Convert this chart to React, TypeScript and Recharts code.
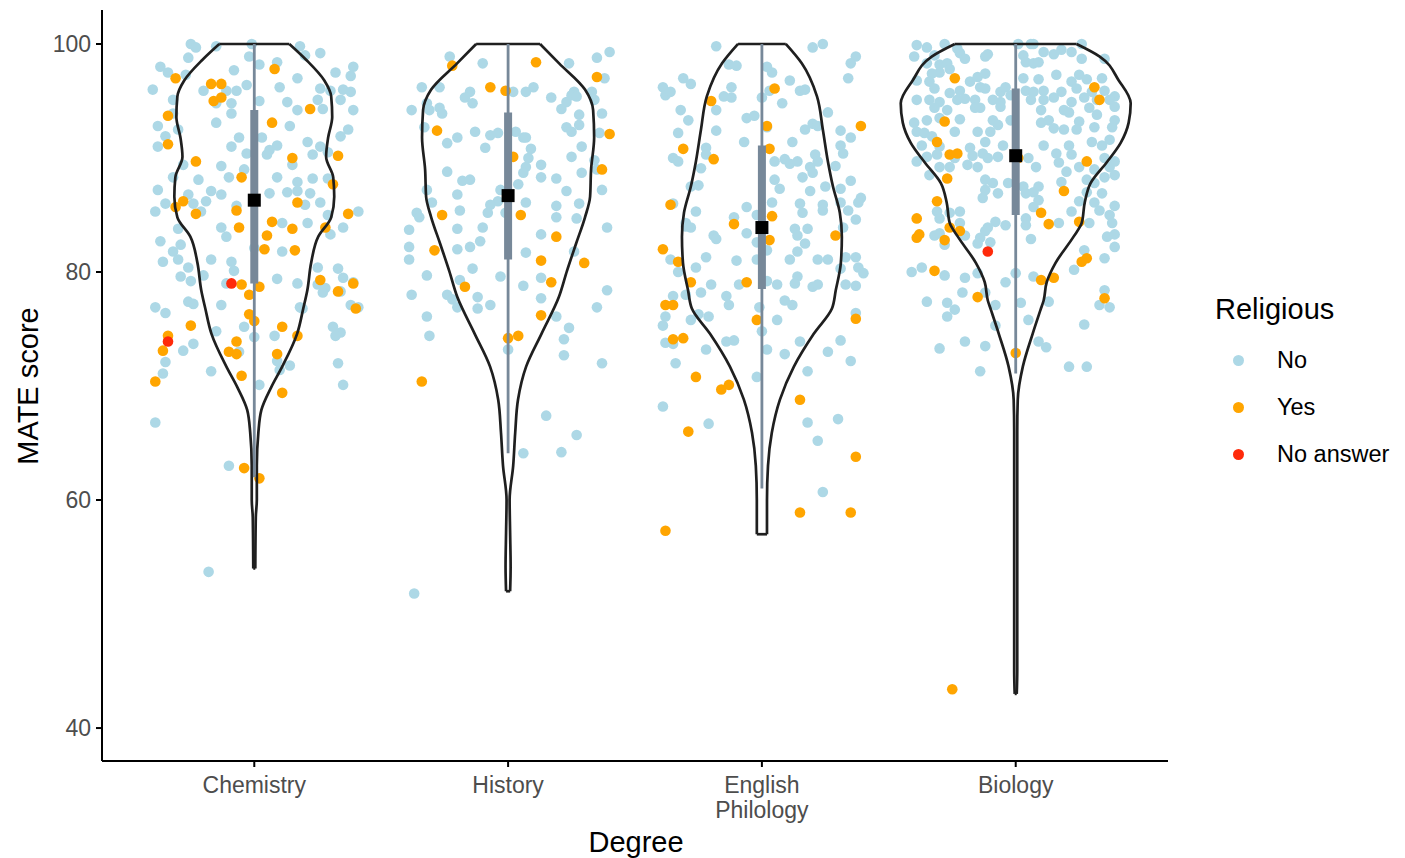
import React from "react";
import { ComposedChart, Scatter, XAxis, YAxis } from "recharts";

const FONT = '"Liberation Sans", Arial, Helvetica, sans-serif';
const BOX = "#778899";

const categories = ["Chemistry", "History", "English Philology", "Biology"];

// jittered points: [offset from the category centre, MATE score]
const chemNo = [
  [-0.25, 100], [-0.23, 99.7], [-0.15, 99.8], [-0.01, 100], [0.18, 99.8], [0.2, 99.0], [0.26, 99.2], [-0.02, 98.9], [-0.26, 98.8], [0.09, 98.4],
  [-0.37, 98.0], [-0.34, 97.5], [-0.27, 97.3], [-0.08, 97.7], [0.02, 98.2], [0.39, 98.0], [0.32, 97.5], [0.38, 97.2], [0.17, 97.0],
  [-0.4, 96.0], [-0.2, 95.9], [-0.11, 95.9], [-0.07, 95.9], [-0.03, 96.4], [0.1, 96.2], [0.26, 96.1], [0.3, 95.9], [0.35, 96.0], [0.38, 95.8],
  [-0.32, 95.1], [-0.15, 94.8], [-0.09, 94.8], [0.02, 95.0], [0.13, 94.9], [0.25, 95.1], [0.34, 95.1], [0.39, 94.2], [0.17, 94.2], [0.27, 94.3],
  [-0.32, 93.9], [-0.09, 93.9], [-0.38, 92.8], [-0.15, 93.1], [0.14, 92.8], [-0.3, 92.5], [0.37, 92.5], [0.34, 91.9], [-0.35, 91.9], [-0.38, 91.0],
  [-0.06, 91.8], [0.03, 91.8], [0.21, 91.4], [-0.09, 91.0], [0.06, 90.7], [0.09, 91.1], [0.26, 91.0], [-0.03, 90.4], [0.05, 90.3], [0.23, 90.3], [0.29, 90.5],
  [-0.28, 89.4], [-0.13, 89.3], [-0.04, 89.0], [0.15, 89.4], [-0.32, 88.3], [-0.22, 88.1], [-0.1, 88.3], [0.09, 88.3], [0.17, 87.9], [0.23, 88.2], [0.29, 88.2],
  [-0.38, 87.2], [-0.17, 87.1], [0.17, 87.1], [0.13, 87.0], [-0.26, 86.8], [-0.13, 86.8], [0.06, 86.9], [0.22, 86.9],
  [-0.35, 86.0], [-0.24, 86.0], [-0.19, 86.2], [-0.07, 85.8], [0.2, 85.9], [0.26, 86.1], [-0.39, 85.3], [-0.21, 85.3], [0.29, 85.0], [0.41, 85.3],
  [-0.3, 83.8], [-0.13, 83.9], [-0.11, 83.1], [0.11, 84.3], [0.21, 84.3], [0.35, 83.9], [0.3, 83.3],
  [-0.37, 82.7], [-0.29, 82.4], [-0.32, 81.8], [0, 82.1], [0.11, 81.8], [-0.36, 80.9], [-0.3, 81.1], [-0.17, 81.1], [-0.09, 80.9], [-0.26, 80.4], [-0.08, 80.1], [0.25, 80.4], [0.33, 80.3],
  [-0.29, 79.6], [-0.25, 79.2], [-0.2, 79.7], [-0.11, 79.0], [0.09, 79.4], [0.17, 79.0], [0.25, 78.9], [0.28, 78.6], [0.35, 79.5], [0.39, 79.1], [0.27, 78.2], [0.34, 78.3],
  [-0.26, 77.4], [-0.24, 77.2], [-0.39, 76.9], [-0.13, 77.1], [0.18, 76.9], [0.38, 77.1], [0.41, 76.9],
  [-0.35, 76.4], [0.19, 76.8], [-0.15, 74.8], [-0.04, 75.2], [0, 74.3], [0.08, 74.4], [0.31, 75.2], [0.34, 74.7], [0.32, 74.4],
  [-0.24, 73.7], [-0.28, 73.1], [-0.06, 73.0], [-0.35, 72.1], [0.09, 72.2], [0.1, 71.4], [0.14, 71.8], [0.33, 72.0], [-0.36, 71.1], [-0.17, 71.3], [0.02, 70.1], [0.35, 70.1],
  [-0.39, 66.8], [-0.1, 63.0], [-0.18, 53.7],
];
const chemYes = [
  [0.08, 97.8], [-0.31, 97.0], [-0.17, 96.5], [-0.13, 96.5], [-0.16, 95.0], [-0.13, 95.3], [-0.34, 93.7], [0.22, 94.3], [0.07, 93.1], [-0.34, 91.2],
  [-0.23, 89.7], [0.15, 90.0], [0.33, 90.2], [-0.05, 88.3], [0.31, 87.7], [-0.28, 86.2], [-0.31, 85.7], [-0.23, 85.1], [-0.07, 85.4], [0.17, 86.1], [0.37, 85.1],
  [0.07, 84.4], [-0.06, 83.9], [0.15, 83.8], [0.28, 83.9], [0.05, 83.2], [0.04, 82.0], [0.16, 81.9], [-0.05, 78.9], [0.02, 78.7], [-0.02, 78.0], [0.26, 79.3], [0.33, 78.3], [0.39, 79.0],
  [-0.02, 76.3], [0, 75.7], [-0.25, 75.3], [-0.34, 74.4], [0.11, 75.2], [0.17, 74.4], [-0.07, 73.9], [-0.1, 73.0], [-0.07, 72.8], [-0.36, 73.1], [0.09, 72.8], [-0.39, 70.4], [-0.05, 70.9], [0.11, 69.4],
  [-0.04, 62.8], [0.02, 61.9], [0.4, 76.8],
];
const chemNA = [[-0.09, 79.0], [-0.34, 73.9]];

const histNo = [
  [-0.23, 98.9], [-0.1, 98.3], [0.24, 98.3], [0.35, 98.8], [0.4, 99.3], [0.38, 97.0], [-0.34, 96.2], [-0.27, 96.2], [-0.15, 95.8], [-0.17, 95.3], [-0.14, 94.8],
  [0.02, 95.8], [0.07, 95.8], [0.1, 96.2], [0.17, 95.3], [0.23, 94.9], [0.26, 95.8], [0.25, 95.5], [0.27, 95.4], [0.33, 95.8], [0.34, 95.1],
  [-0.38, 94.2], [-0.32, 94.8], [-0.31, 94.2], [-0.27, 94.4], [-0.26, 93.9], [0.21, 94.3], [0.37, 93.9], [0.28, 93.8],
  [-0.33, 92.7], [-0.13, 92.3], [-0.07, 92.0], [-0.04, 92.2], [0.03, 92.3], [0.06, 91.8], [0.07, 91.8], [0.23, 92.7], [0.28, 92.9], [0.25, 92.3], [0.36, 92.2],
  [-0.2, 91.8], [-0.24, 91.3], [-0.09, 90.9], [0.09, 90.8], [0.29, 91.0], [0.25, 90.1], [0.08, 90.0], [0.07, 89.2], [0.06, 88.7], [0.13, 89.4], [0.34, 89.8], [0.35, 89.0],
  [-0.24, 88.8], [-0.18, 88.0], [-0.15, 88.1], [0.13, 88.3], [0.19, 88.2], [0.29, 88.7], [0.04, 87.7], [-0.32, 87.2], [0.37, 87.2], [0.23, 87.1], [-0.2, 86.8], [-0.03, 87.2],
  [-0.04, 86.2], [-0.3, 86.1], [-0.07, 85.9], [0.07, 86.1], [0.19, 85.8], [0.28, 86.0], [-0.36, 85.2], [-0.35, 84.8], [-0.19, 85.4], [-0.08, 85.2], [-0.01, 85.2], [0.19, 84.8], [0.27, 84.7],
  [-0.39, 83.7], [-0.2, 83.8], [-0.1, 83.9], [0.13, 83.3], [0.39, 83.9], [-0.39, 82.2], [-0.39, 81.1], [-0.2, 82.0], [-0.15, 82.2], [-0.11, 82.7], [0.07, 81.7], [0.26, 81.8],
  [-0.14, 80.3], [-0.32, 79.7], [-0.03, 79.6], [-0.19, 79.3], [0.13, 79.5], [0.06, 78.8], [-0.38, 78.0], [-0.24, 78.0], [-0.12, 77.8], [0.13, 77.7], [0.39, 78.4], [-0.22, 77.6], [-0.07, 77.1], [0.35, 76.9], [-0.2, 76.9],
  [-0.32, 76.1], [-0.12, 76.8], [0.19, 76.1], [-0.31, 74.4], [0.24, 75.1], [0.22, 74.1], [0, 73.2], [0.22, 72.7], [0.37, 72.0],
  [0.15, 67.4], [0.27, 65.7], [0.06, 64.1], [0.21, 64.2], [-0.37, 51.8],
];
const histYes = [
  [-0.22, 98.1], [0.11, 98.4], [0.35, 97.1], [-0.07, 96.2], [-0.01, 95.9], [-0.28, 92.4], [0.4, 92.1], [0.02, 90.1], [0.37, 89.0], [-0.26, 85.0], [0.05, 85.0],
  [0.19, 83.1], [-0.29, 81.9], [0.13, 81.0], [0.3, 80.8], [-0.17, 78.7], [0.17, 79.1], [0.13, 76.2], [0, 74.2], [0.04, 74.4], [-0.34, 70.4],
];
const histNA: number[][] = [];

const engNo = [
  [-0.18, 99.8], [0.2, 99.7], [0.24, 100], [0.37, 98.9], [0.35, 98.3], [-0.13, 98.2], [-0.1, 98.1], [0.02, 98.0], [0.04, 97.5], [-0.31, 97.0], [-0.28, 96.5], [0.34, 97.0], [0.11, 96.8],
  [-0.39, 96.2], [-0.38, 95.5], [-0.36, 95.8], [-0.12, 96.2], [0.03, 95.9], [0.15, 95.9], [0.17, 96.0], [-0.15, 95.4], [-0.12, 95.3], [0, 95.3], [0.08, 94.8],
  [-0.32, 94.2], [-0.18, 94.2], [0.26, 94.0], [-0.29, 93.3], [-0.06, 93.5], [-0.03, 93.7], [0.2, 93.0], [0.22, 92.8], [-0.33, 92.2], [-0.18, 92.4], [0.02, 92.7], [0.17, 92.5], [0.31, 92.4], [0.35, 91.8],
  [-0.07, 91.4], [0.12, 91.4], [0.31, 91.1], [-0.22, 90.9], [-0.22, 90.3], [-0.35, 90.0], [-0.33, 89.7], [0.05, 89.7], [0.09, 89.9], [0.11, 89.5], [0.14, 89.7], [0.21, 90.3], [0.32, 90.4], [0.22, 89.7], [0.19, 89.2],
  [-0.24, 89.1], [0.2, 88.7], [0.29, 89.3], [0.16, 88.3], [0.05, 88.1], [0.35, 88.0], [-0.28, 87.5], [-0.25, 87.6], [0.07, 87.3], [0.19, 87.1], [0.25, 87.5], [0.31, 87.3], [0.39, 86.5],
  [0.04, 86.1], [0.15, 86.0], [0.24, 85.9], [0.31, 86.1], [0.38, 86.1], [-0.35, 86.0], [-0.26, 85.3], [-0.06, 85.7], [0.16, 85.2], [0.24, 85.4], [0.34, 85.4], [-0.11, 84.8], [0.37, 84.6], [-0.02, 85.0],
  [-0.3, 84.3], [-0.28, 83.9], [-0.3, 84.0], [0.13, 83.8], [0.18, 83.8], [0.32, 83.9], [-0.06, 83.4], [-0.19, 83.2], [-0.18, 82.9], [0.14, 83.2], [-0.02, 82.6], [0.02, 81.9], [0.17, 82.5], [0.14, 81.8],
  [-0.36, 81.1], [-0.22, 81.3], [-0.1, 81.0], [-0.02, 81.1], [0.11, 81.1], [0.22, 81.1], [0.26, 81.1], [0.33, 81.3], [0.37, 81.3],
  [-0.26, 80.4], [0.31, 80.3], [0.38, 80.4], [0.4, 79.9], [-0.33, 80.0], [0.14, 79.6], [-0.2, 78.9], [-0.09, 78.9], [0.02, 79.2], [0.06, 78.9], [0.13, 79.0], [0.2, 78.7], [0.22, 78.9], [0.33, 78.9], [0.37, 78.8],
  [-0.35, 77.9], [-0.3, 78.0], [-0.24, 78.2], [-0.14, 77.9], [-0.13, 77.1], [0.09, 77.5], [0.12, 77.1], [-0.01, 76.9],
  [-0.38, 76.1], [-0.39, 75.3], [-0.28, 75.8], [-0.25, 76.3], [-0.21, 76.1], [0.06, 75.8], [0, 74.8], [0.37, 76.4],
  [-0.38, 73.8], [-0.35, 73.7], [-0.22, 73.2], [-0.14, 73.9], [-0.11, 74.0], [0.02, 73.2], [0.09, 72.8], [0.15, 73.9], [0.26, 73.0], [0.31, 74.0], [0.35, 72.2],
  [-0.34, 72.0], [0.18, 71.3], [-0.02, 70.8], [-0.39, 68.2], [-0.21, 66.7], [0.18, 66.8], [0.3, 67.1], [0.22, 65.2], [0.24, 60.7],
];
const engYes = [
  [0.05, 96.1], [-0.2, 95.0], [0.39, 92.8], [0.02, 92.8], [-0.31, 90.8], [-0.19, 89.9], [0.03, 90.8], [-0.36, 85.9], [0.04, 84.9], [-0.11, 84.2], [0.03, 82.8], [0.29, 83.2],
  [-0.39, 82.0], [-0.33, 80.9], [-0.28, 79.1], [-0.06, 79.1], [-0.38, 77.1], [-0.35, 77.1], [-0.02, 75.8], [0.37, 75.9], [-0.35, 74.1], [-0.31, 74.2],
  [-0.26, 70.8], [-0.16, 69.7], [-0.13, 70.1], [0.15, 68.8], [-0.29, 66.0], [0.37, 63.8], [0.15, 58.9], [0.35, 58.9], [-0.38, 57.3],
];
const engNA: number[][] = [];

const bioNo = [
  [-0.39, 99.9], [-0.35, 99.7], [-0.28, 100], [-0.23, 99.6], [-0.22, 99.2], [-0.2, 98.7], [-0.11, 99.1], [-0.12, 98.9], [0.01, 100], [0.06, 100], [0.07, 100], [0.03, 99.0], [0.11, 99.3], [0.15, 99.1], [0.18, 99.5], [0.22, 99.3], [0.26, 100], [0.26, 98.7], [0.35, 98.7],
  [-0.4, 98.9], [-0.32, 99.0], [-0.35, 98.3], [-0.3, 98.2], [-0.27, 98.3], [-0.26, 97.8], [-0.3, 97.5], [-0.33, 97.4], [0.04, 98.4], [0.07, 98.3], [0.09, 98.4],
  [-0.39, 96.8], [-0.34, 96.7], [-0.18, 96.7], [-0.15, 97.1], [-0.12, 97.4], [0.03, 97.0], [0.09, 96.9], [0.16, 97.3], [0.25, 97.3], [0.22, 96.7], [0.28, 96.9], [0.34, 97.0],
  [-0.32, 96.1], [-0.22, 95.9], [-0.26, 95.7], [-0.14, 96.2], [-0.12, 96.1], [-0.06, 95.8], [-0.04, 96.2], [-0.02, 95.5], [0.04, 95.9], [0.07, 95.8], [0.11, 95.9], [0.18, 95.8], [0.24, 96.1], [0.3, 95.8], [0.35, 95.9], [0.39, 95.4],
  [-0.39, 95.1], [-0.34, 95.1], [-0.3, 94.9], [-0.23, 95.1], [-0.2, 95.2], [-0.16, 95.1], [-0.09, 95.1], [-0.06, 94.9], [0.06, 95.1], [0.11, 95.1], [0.15, 95.3], [0.22, 94.9], [0.27, 95.3], [0.32, 95.1], [0.37, 95.1],
  [-0.32, 94.4], [-0.27, 94.2], [-0.16, 94.4], [-0.14, 94.4], [-0.06, 94.5], [0.1, 94.2], [0.19, 94.2], [0.21, 94.0], [0.29, 94.4], [0.39, 94.5],
  [-0.35, 93.3], [-0.4, 93.1], [-0.3, 93.5], [-0.22, 93.4], [-0.09, 93.3], [-0.07, 92.9], [-0.02, 93.3], [0.1, 93.1], [0.13, 93.3], [0.25, 93.2], [0.32, 93.8], [0.39, 93.3],
  [-0.39, 92.3], [-0.36, 92.2], [-0.33, 91.9], [-0.24, 92.3], [-0.15, 92.3], [-0.1, 92.3], [0.15, 92.6], [0.19, 92.5], [0.24, 92.5], [0.31, 92.7], [0.38, 92.7],
  [-0.37, 91.1], [-0.3, 91.0], [-0.18, 90.9], [-0.12, 91.4], [-0.05, 91.1], [0.11, 91.1], [0.21, 91.1], [0.3, 91.4], [0.34, 91.1], [0.37, 91.6],
  [-0.35, 90.1], [-0.31, 90.3], [-0.24, 90.0], [-0.17, 90.2], [-0.13, 90.4], [-0.11, 90.0], [-0.07, 90.1], [0.05, 90.0], [0.16, 90.4], [0.22, 90.3], [0.35, 90.0], [0.39, 89.7],
  [-0.39, 89.7], [-0.3, 89.2], [-0.26, 89.2], [-0.19, 89.4], [-0.15, 89.2], [0.08, 89.2], [0.17, 89.6], [0.2, 88.8], [0.25, 89.2], [0.31, 89.0], [0.37, 89.2], [0.39, 88.5],
  [-0.34, 88.5], [-0.12, 88.1], [-0.09, 87.8], [-0.03, 87.8], [0.03, 87.5], [0.09, 87.5], [0.18, 87.9], [0.28, 88.1], [0.31, 87.8], [0.35, 88.3],
  [-0.12, 87.2], [-0.07, 86.9], [0.04, 86.9], [0.07, 87.0], [0.28, 87.0], [0.34, 86.9], [-0.13, 86.5], [0.09, 86.3], [0.25, 86.2], [0.31, 86.1], [0.39, 85.8],
  [-0.31, 85.3], [-0.26, 85.2], [-0.22, 85.3], [0.07, 85.7], [0.22, 85.3], [0.33, 85.4], [0.37, 85.0],
  [-0.3, 84.7], [-0.22, 84.3], [-0.08, 84.4], [-0.04, 84.1], [-0.11, 83.9], [0.04, 84.7], [0.04, 84.1], [0.17, 84.3], [0.29, 84.3], [0.38, 84.3],
  [-0.32, 83.2], [-0.3, 83.4], [-0.2, 83.2], [-0.12, 83.6], [-0.14, 83.0], [0.36, 83.1], [0.39, 83.3],
  [-0.28, 82.4], [-0.15, 82.5], [-0.1, 82.6], [0.06, 82.9], [0.27, 81.9], [0.35, 81.2], [0.39, 82.2],
  [-0.41, 80.0], [-0.37, 80.4], [-0.28, 79.7], [-0.2, 79.5], [-0.15, 79.9], [-0.04, 79.1], [0, 79.9], [0.07, 79.6], [0.23, 80.2],
  [-0.21, 78.2], [-0.12, 78.2], [0.35, 78.4], [-0.35, 77.4], [-0.27, 77.3], [-0.08, 77.1], [0.02, 77.3], [0.13, 77.4], [0.33, 77.1], [0.37, 76.9],
  [-0.24, 76.7], [-0.27, 76.1], [-0.08, 75.3], [0.05, 75.8], [0.27, 75.4],
  [-0.3, 73.3], [-0.2, 73.9], [-0.12, 73.5], [0.09, 73.9], [0.12, 73.4], [-0.14, 71.3], [0.21, 71.7], [0.28, 71.7],
];
const bioYes = [
  [-0.24, 97.0], [0.31, 96.2], [0.33, 95.1], [-0.28, 93.2], [-0.31, 91.4], [-0.26, 90.3], [-0.23, 90.4], [0.01, 90.0], [0.28, 89.7], [-0.27, 88.2], [0.19, 87.1], [-0.31, 86.2],
  [-0.39, 84.7], [0.1, 85.2], [0.13, 84.2], [0.25, 84.4], [-0.26, 83.9], [-0.22, 83.6], [-0.39, 83.0], [-0.38, 83.3], [-0.28, 82.8], [0.26, 80.9], [0.28, 81.2], [-0.32, 80.1],
  [0.1, 79.3], [0.15, 79.5], [-0.15, 77.8], [0.35, 77.7], [0, 72.9], [-0.25, 43.4],
];
const bioNA = [[-0.11, 81.8]];

// violin outline: [score, half width in category units], top to bottom
const chemViolin = [
  [100, 0.138], [98.6, 0.205], [96.8, 0.276], [95.4, 0.303], [93.6, 0.307], [91.8, 0.291], [90.1, 0.283], [88.3, 0.311], [86.6, 0.315],
  [84.8, 0.303], [83.1, 0.252], [80.8, 0.224], [78.4, 0.209], [76.8, 0.193], [74.6, 0.169], [71.7, 0.11], [69.9, 0.067], [67.9, 0.028],
  [65.9, 0.016], [63, 0.01], [60, 0.01], [58.5, 0.006], [54, 0.004],
];
const histViolin = [
  [100, 0.126], [98.3, 0.201], [96, 0.303], [94.2, 0.335], [91.8, 0.339], [89, 0.327], [86.6, 0.323], [84.8, 0.303], [82.5, 0.268],
  [80.1, 0.232], [77.8, 0.2], [74.6, 0.132], [71.7, 0.071], [68.8, 0.039], [65.9, 0.028], [63, 0.02], [60, 0.006], [57.1, 0.008],
  [54.1, 0.01], [52, 0.008],
];
const engViolin = [
  [100, 0.094], [98.3, 0.157], [95.4, 0.217], [92.5, 0.24], [89.7, 0.26], [87.5, 0.28], [85.2, 0.307], [83.1, 0.315], [80.8, 0.311],
  [78.4, 0.291], [76.8, 0.276], [74.6, 0.205], [71.7, 0.126], [68.8, 0.071], [65.9, 0.039], [63, 0.024], [60, 0.02], [57, 0.02],
];
const bioViolin = [
  [100, 0.24], [98.9, 0.331], [96.8, 0.406], [94.8, 0.453], [93.1, 0.445], [91.3, 0.413], [89.6, 0.358], [87.8, 0.295], [86.1, 0.272],
  [84.3, 0.26], [83.1, 0.228], [80.8, 0.157], [79.1, 0.122], [77.5, 0.11], [76.7, 0.098], [74.6, 0.067], [71.7, 0.028], [68.8, 0.008],
  [66, 0.006], [45, 0.006], [43, 0.004],
];

// box summary per degree
const whiskerLow = [62.0, 64.1, 61.0, 71.1];
const whiskerHigh = [100, 100, 100, 100];
const q1 = [79.0, 81.1, 78.5, 85.0];
const q3 = [94.2, 94.0, 91.1, 96.1];
const medians = [86.3, 86.7, 83.9, 90.2];

const groups = [
  { name: "No", color: "#add8e6", sets: [chemNo, histNo, engNo, bioNo] },
  { name: "Yes", color: "#ffa500", sets: [chemYes, histYes, engYes, bioYes] },
  { name: "No answer", color: "#ff2a0a", sets: [chemNA, histNA, engNA, bioNA] },
];
const violins = [chemViolin, histViolin, engViolin, bioViolin];

const Empty = () => <g />;

const dot = (color: string) => (p: any) => (
  <circle cx={p.cx} cy={p.cy} r={5.3} fill={color} />
);

const MedianSquare = (p: any) => (
  <rect x={p.cx - 6.5} y={p.cy - 6.5} width={13} height={13} fill="#000" />
);

const XTick = (props: any) => {
  const { x, y, payload } = props;
  const label = categories[payload.value - 1] || "";
  const lines = label === "English Philology" ? ["English", "Philology"] : [label];
  return (
    <text x={x} y={y} textAnchor="middle" fill="#4d4d4d" fontSize={23} fontFamily={FONT}>
      {lines.map((l, k) => (
        <tspan key={k} x={x} dy={k === 0 ? 24 : 25}>
          {l}
        </tspan>
      ))}
    </text>
  );
};

export default function App() {
  const pointSeries = groups.map((g) => ({
    ...g,
    data: g.sets.flatMap((set, i) => set.map(([dx, y]) => ({ x: i + 1 + dx, y }))),
  }));

  const violinParts = violins.flatMap((v, i) => {
    const c = i + 1;
    const last = v[v.length - 1];
    return [
      v.map(([y, w]) => ({ x: c - w, y })),
      v.map(([y, w]) => ({ x: c + w, y })),
      [
        { x: c - v[0][1], y: v[0][0] },
        { x: c + v[0][1], y: v[0][0] },
      ],
      [
        { x: c - last[1], y: last[0] },
        { x: c + last[1], y: last[0] },
      ],
    ];
  });

  const whiskers = categories.map((_, i) => [
    { x: i + 1, y: whiskerLow[i] },
    { x: i + 1, y: whiskerHigh[i] },
  ]);
  const boxes = categories.map((_, i) => [
    { x: i + 1, y: q1[i] },
    { x: i + 1, y: q3[i] },
  ]);
  const medianData = categories.map((_, i) => ({ x: i + 1, y: medians[i] }));

  return (
    <div style={{ position: "absolute", left: 0, top: 0, width: 1405, height: 858, background: "#fff", fontFamily: FONT }}>
      <ComposedChart width={1405} height={858} margin={{ top: 10, right: 237, bottom: 37, left: 42 }}>
        <XAxis
          type="number"
          dataKey="x"
          domain={[0.4, 4.6]}
          ticks={[1, 2, 3, 4]}
          allowDataOverflow
          interval={0}
          height={60}
          tickSize={6}
          tick={<XTick />}
          axisLine={{ stroke: "#000", strokeWidth: 2 }}
          tickLine={{ stroke: "#000", strokeWidth: 2 }}
        />
        <YAxis
          type="number"
          dataKey="y"
          domain={[37.11, 102.98]}
          ticks={[40, 60, 80, 100]}
          allowDataOverflow
          width={60}
          tickSize={6}
          tickMargin={5}
          tick={{ fill: "#4d4d4d", fontSize: 23, fontFamily: FONT }}
          axisLine={{ stroke: "#000", strokeWidth: 2 }}
          tickLine={{ stroke: "#000", strokeWidth: 2 }}
        />
        {pointSeries.map((s) => (
          <Scatter key={s.name} name={s.name} data={s.data} fill={s.color} shape={dot(s.color)} isAnimationActive={false} />
        ))}
        {violinParts.map((d, k) => (
          <Scatter
            key={"v" + k}
            data={d}
            shape={Empty}
            line={{ stroke: "#1f1f1f", strokeWidth: 2.7 }}
            lineJointType={k % 4 < 2 ? "monotoneY" : "linear"}
            isAnimationActive={false}
          />
        ))}
        {whiskers.map((d, k) => (
          <Scatter key={"w" + k} data={d} shape={Empty} line={{ stroke: BOX, strokeWidth: 2.8 }} isAnimationActive={false} />
        ))}
        {boxes.map((d, k) => (
          <Scatter key={"b" + k} data={d} shape={Empty} line={{ stroke: BOX, strokeWidth: 8 }} isAnimationActive={false} />
        ))}
        <Scatter data={medianData} shape={MedianSquare} isAnimationActive={false} />
      </ComposedChart>

      <div style={{ position: "absolute", left: 28, top: 386, transform: "translate(-50%, -50%) rotate(-90deg)", fontSize: 29, whiteSpace: "nowrap", color: "#000" }}>
        MATE score
      </div>
      <div style={{ position: "absolute", left: 636, top: 842, transform: "translate(-50%, -50%)", fontSize: 29, whiteSpace: "nowrap", color: "#000" }}>
        Degree
      </div>
      <div style={{ position: "absolute", left: 1215, top: 309, transform: "translateY(-50%)", fontSize: 29, color: "#000" }}>
        Religious
      </div>
      {groups.map((g, k) => (
        <div key={g.name} style={{ position: "absolute", left: 1233, top: 360 + k * 47 - 15, height: 30, display: "flex", alignItems: "center" }}>
          <span style={{ width: 11, height: 11, borderRadius: "50%", background: g.color, display: "inline-block" }} />
          <span style={{ marginLeft: 33, fontSize: 23.5, color: "#000" }}>{g.name}</span>
        </div>
      ))}
    </div>
  );
}
